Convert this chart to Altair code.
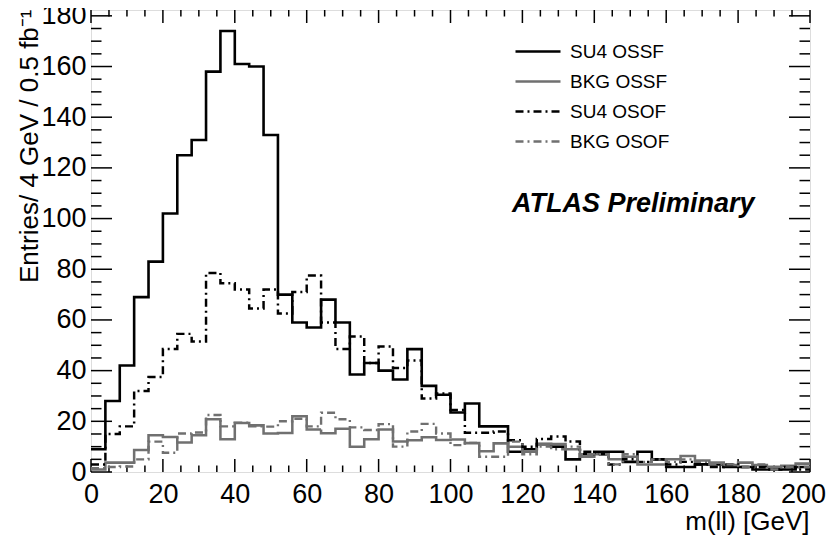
import altair as alt
import pandas as pd

# ---- data (entries per 4 GeV bin, 0-200 GeV) ----
bin_width = 4
series_names = ["SU4 OSSF", "BKG OSSF", "SU4 OSOF", "BKG OSOF"]

su4_ossf = [9, 28, 42, 69, 83, 102, 125, 131, 158, 174,
            161, 160, 133, 70, 59, 57, 68, 59, 38.5, 43,
            40, 36.5, 48.5, 34, 30.5, 23.5, 27, 18, 18, 8,
            9, 11, 10, 5, 7, 8, 8, 4, 8, 5,
            2, 2, 3, 3, 2, 2, 1, 1, 1, 2]
bkg_ossf = [1, 3.7, 3.7, 8.7, 14.5, 13.8, 11.6, 14.5, 20.8, 12.9,
            19.3, 18.4, 15.2, 15.4, 22, 16.8, 15.3, 17.1, 10, 12.9,
            16.8, 12, 12.5, 13.7, 12.6, 12.8, 11.4, 8.2, 11.3, 10,
            8, 11, 11, 9, 6, 7, 5, 6, 3, 3,
            5, 6.3, 4.5, 3.7, 2.8, 3.7, 2.8, 2.1, 2.5, 3.3]
su4_osof = [3, 15, 18, 32, 37.5, 48.5, 54.5, 51.5, 78.5, 74.5,
            72, 64.5, 72, 62.5, 71, 77.5, 59, 48.5, 53.5, 43,
            49.5, 41, 44, 29, 31, 24.5, 15.5, 15.5, 16, 12.5,
            10, 13, 14, 12, 8, 7, 3, 5, 4, 5,
            3, 4, 3, 2, 3, 2, 2, 1, 2, 1]
bkg_osof = [1.5, 2, 2.2, 5, 12, 7.6, 15.2, 15.6, 22.5, 18,
            19.5, 18, 17.9, 20, 21, 18, 23.4, 20.8, 17.6, 16.6,
            18.9, 10, 16, 19, 15.2, 10.6, 11.5, 6, 6, 12,
            7, 10, 9, 10, 7, 7, 3, 7, 4, 5,
            4, 5, 4, 3, 3, 2, 3, 1, 2, 2]

x_ticks_major = list(range(0, 201, 20))
x_ticks_minor = [v for v in range(0, 201, 5) if v % 20]
y_ticks_major = list(range(0, 181, 20))
y_ticks_minor = [v for v in range(0, 181, 5) if v % 20]

# ---- build table ----
rows = []
for name, vals in zip(series_names, [su4_ossf, bkg_ossf, su4_osof, bkg_osof]):
    for i, v in enumerate(vals):
        rows.append({"series": name, "x": i * bin_width, "y": v})
    rows.append({"series": name, "x": len(vals) * bin_width, "y": vals[-1]})
df = pd.DataFrame(rows)

W, H = 719, 462
FONT = "Liberation Sans"
GRAY = "#707070"

xscale = alt.Scale(domain=[0, 200], nice=False, zero=False)
yscale = alt.Scale(domain=[0, 182.3], nice=False)

legend = alt.Legend(orient="none", legendX=423, legendY=32, title=None,
                    symbolType="stroke", symbolSize=2025, clipHeight=19,
                    labelFontSize=19, labelFont=FONT, labelColor="black",
                    labelOffset=8, rowPadding=10, padding=0)

lines = alt.Chart(df).mark_line(interpolate="step-after").encode(
    x=alt.X("x:Q", scale=xscale,
            axis=alt.Axis(values=x_ticks_major, format="d", tickSize=0, domain=False, grid=False,
                          labelFlush=False, labelOverlap=False,
                          labelOffset={"condition": {"test": "datum.value == 200", "value": -7},
                                       "value": 0},
                          labelFontSize=27, labelPadding=9, labelFont=FONT, labelColor="black",
                          title="m(ll) [GeV]", titleFontSize=26, titleFont=FONT,
                          titleFontWeight="normal", titleColor="black",
                          titleAnchor="end", titleAlign="right", titleBaseline="alphabetic",
                          titleX=W - 1, titleY=57)),
    y=alt.Y("y:Q", scale=yscale,
            axis=alt.Axis(values=y_ticks_major, format="d", tickSize=0, domain=False, grid=False,
                          labelFlush=False, labelOverlap=False,
                          labelFontSize=27, labelPadding=5, labelFont=FONT, labelColor="black",
                          title="Entries/ 4 GeV / 0.5 fb\u207b\u00b9", titleFontSize=26, titleFont=FONT,
                          titleFontWeight="normal", titleColor="black",
                          titleAngle=270, titleAlign="right", titleBaseline="alphabetic",
                          titleX=-54, titleY=-1)),
    color=alt.Color("series:N", scale=alt.Scale(domain=series_names,
                                                range=["black", GRAY, "black", GRAY]),
                    legend=legend),
    strokeDash=alt.StrokeDash("series:N", scale=alt.Scale(domain=series_names,
                                                          range=[[1, 0], [1, 0], [8, 4, 2, 4], [8, 4, 2, 4]]),
                              legend=legend),
    strokeWidth=alt.StrokeWidth("series:N", scale=alt.Scale(domain=series_names,
                                                            range=[2.6, 2.4, 2.2, 2.0]),
                                legend=None),
)

def tick_layer(values, field, side, length):
    d = pd.DataFrame({"v": values})
    if field == "x":
        if side == "bottom":
            enc = dict(x=alt.X("v:Q", scale=xscale), y=alt.value(H), y2=alt.value(H - length))
        else:
            enc = dict(x=alt.X("v:Q", scale=xscale), y=alt.value(0), y2=alt.value(length))
    else:
        if side == "left":
            enc = dict(y=alt.Y("v:Q", scale=yscale), x=alt.value(0), x2=alt.value(length))
        else:
            enc = dict(y=alt.Y("v:Q", scale=yscale), x=alt.value(W), x2=alt.value(W - length))
    return alt.Chart(d).mark_rule(color="black", strokeWidth=1.5).encode(**enc)

ticks = [
    tick_layer(x_ticks_major, "x", "bottom", 13),
    tick_layer(x_ticks_minor, "x", "bottom", 6.5),
    tick_layer(x_ticks_major, "x", "top", 13),
    tick_layer(x_ticks_minor, "x", "top", 6.5),
    tick_layer(y_ticks_major, "y", "left", 21),
    tick_layer(y_ticks_minor, "y", "left", 10.5),
    tick_layer(y_ticks_major, "y", "right", 21),
    tick_layer(y_ticks_minor, "y", "right", 10.5),
]

label = alt.Chart(pd.DataFrame({"t": ["ATLAS Preliminary"]})).mark_text(
    font=FONT, fontSize=27, fontWeight="bold", fontStyle="italic",
    align="left", baseline="alphabetic", color="black"
).encode(text="t:N", x=alt.value(421), y=alt.value(202))

chart = alt.layer(*ticks, lines, label).properties(
    width=W, height=H,
    autosize=alt.AutoSizeParams(type="none"),
    padding={"left": 83, "top": 2, "right": 16, "bottom": 63},
).configure_view(stroke="black", strokeWidth=2).configure(background="white")

chart.save("out.html", embed_options={"renderer": "svg", "actions": False})
